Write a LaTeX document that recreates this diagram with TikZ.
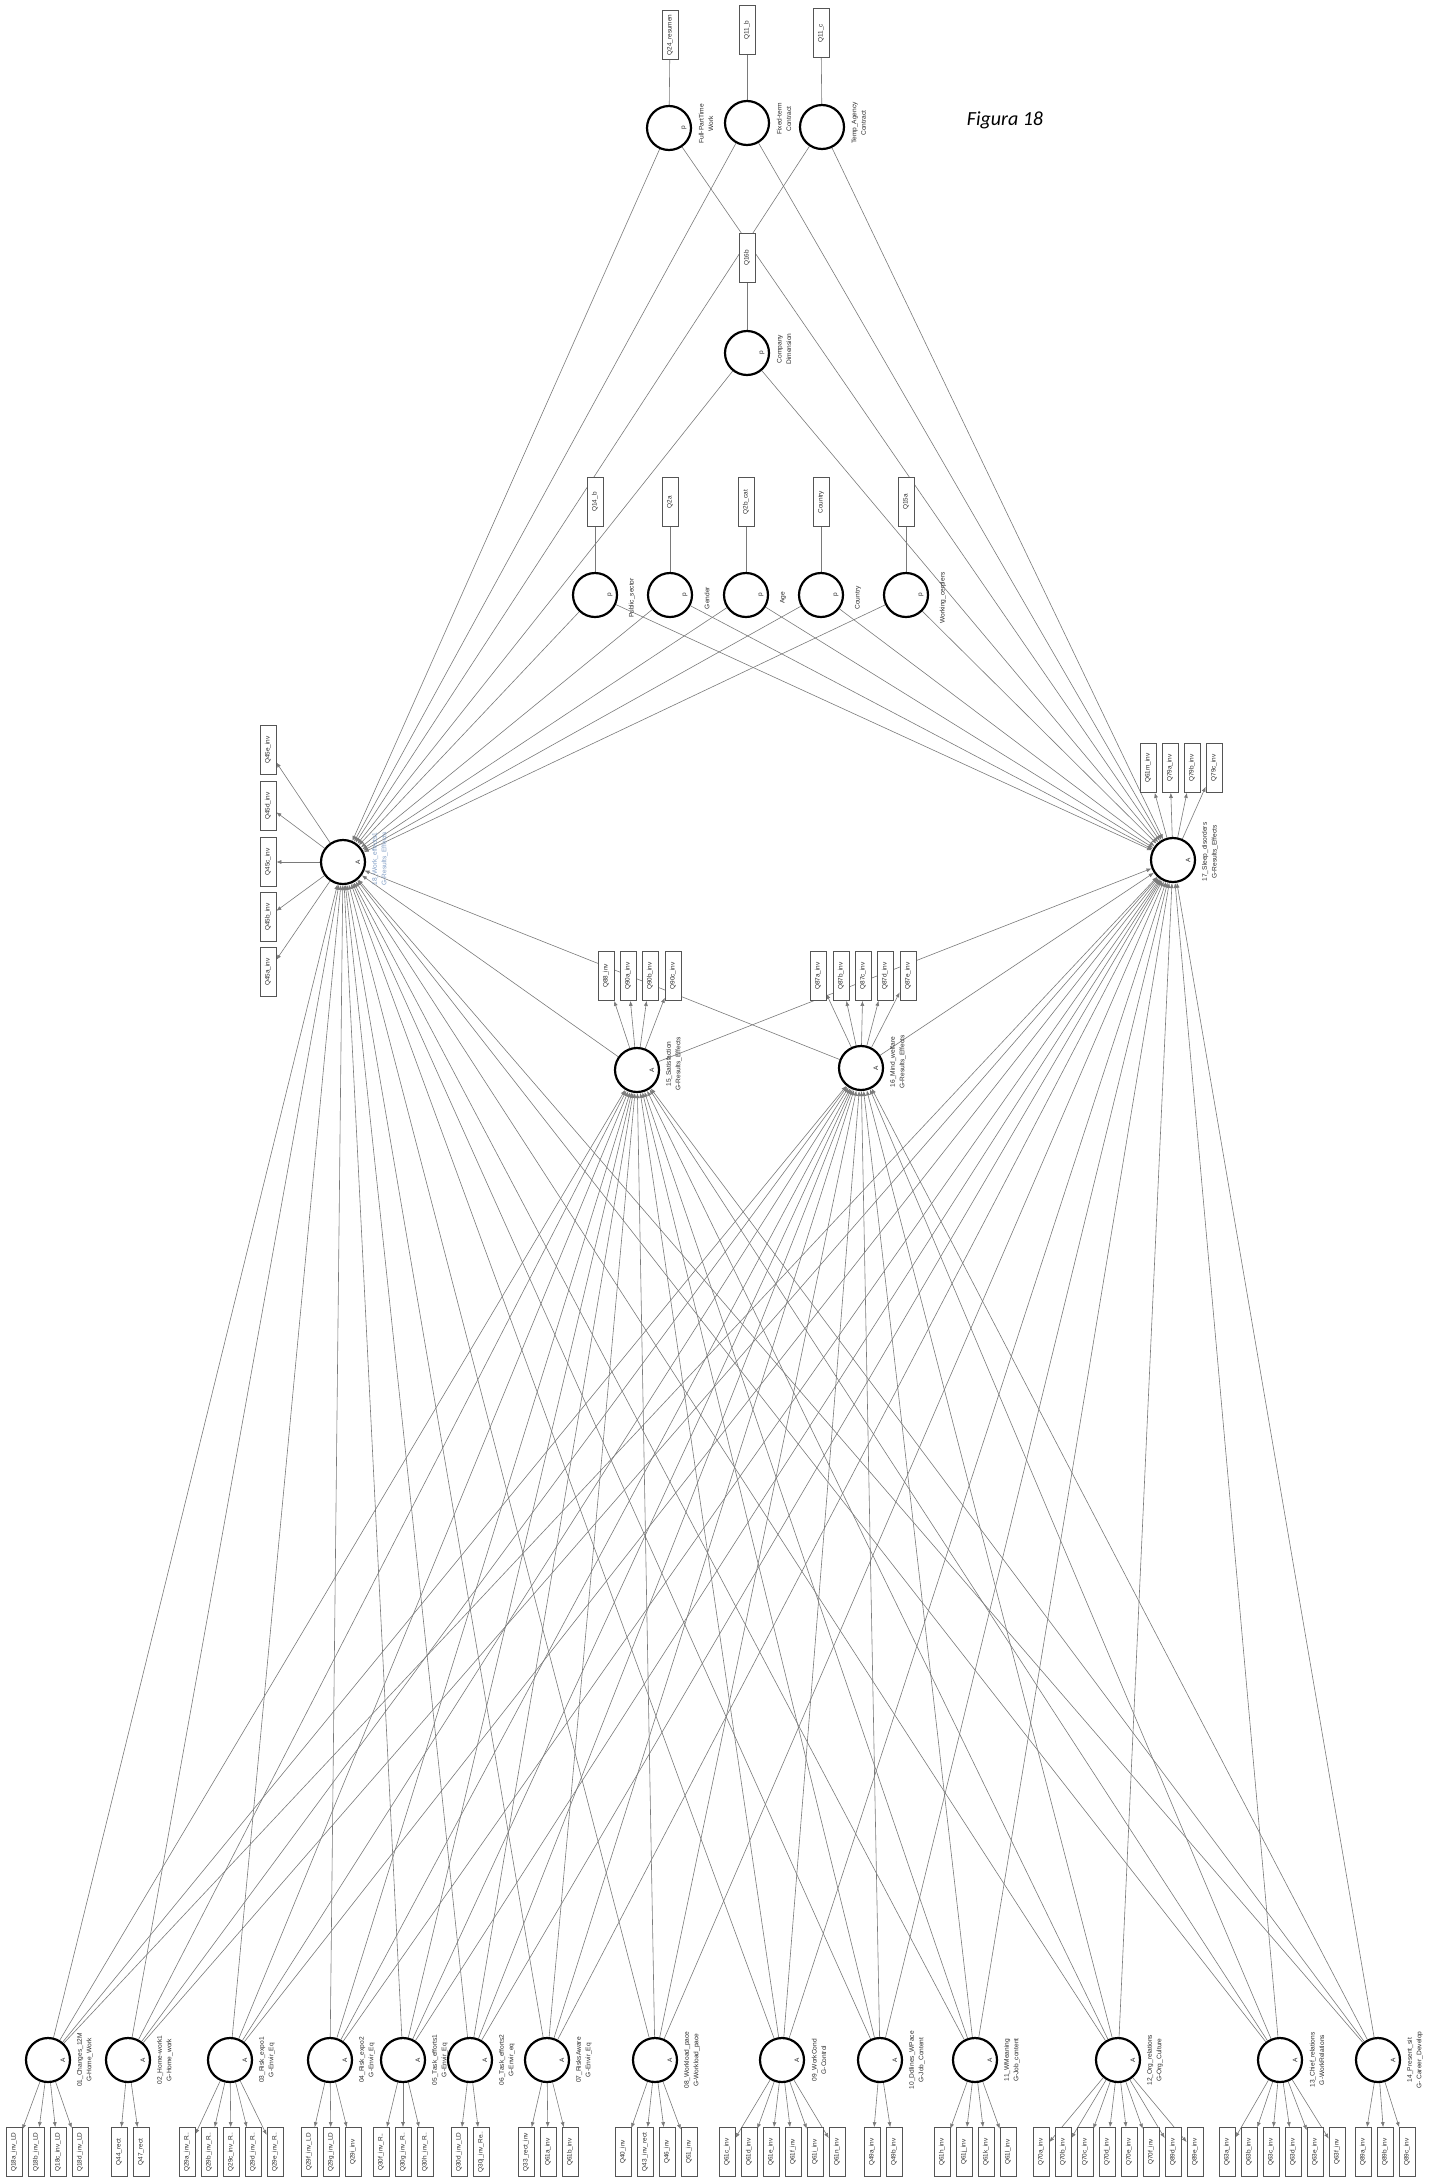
\documentclass[tikz,border=0pt]{standalone}
\usepackage{fontspec}
\setmainfont{Liberation Sans}
\newfontfamily\figfont{Carlito}
\usetikzlibrary{arrows.meta,backgrounds}
\definecolor{ink}{HTML}{2A2A2A}
\definecolor{wire}{HTML}{7A7A7A}
\definecolor{boxline}{HTML}{555555}
\definecolor{paleblue}{HTML}{7E9CC4}

\begin{document}
\begin{tikzpicture}[x=1pt,y=-1pt,
  latent/.style={circle,draw=black,line width=2.2pt,fill=white,minimum size=44pt,inner sep=0pt},
  indbox/.style={draw=boxline,line width=0.7pt,fill=white,rotate=90,minimum width=49pt,minimum height=16pt,inner sep=0pt,font=\fontsize{6.4}{7}\selectfont,text=ink},
  letterA/.style={xshift=15pt,rotate=90,font=\fontsize{6.5}{7}\selectfont,text=ink},
  lbl/.style={xshift=37pt,rotate=90,align=center,font=\fontsize{6.6}{9.5}\selectfont,text=ink},
  arr/.style={-{Latex[length=5pt,width=4pt]},line width=0.6pt,draw=wire},
  link/.style={line width=0.6pt,draw=wire}
]
\useasboundingbox (0,0) rectangle (1429,2179);

\node[font=\figfont\itshape\fontsize{20}{24}\selectfont] (fig) at (1005,120) {Figura 18};

% control variables
\node[latent,label={[letterA]center:p},label={[lbl,xshift=4pt]center:{Full-PartTime\\Work}}] (fpt) at (669,128) {};
\node[latent,label={[lbl,xshift=4pt]center:{Fixed-term\\Contract}}] (fix) at (747,123) {};
\node[latent,label={[lbl,xshift=4pt]center:{Temp\_Agency\\Contract}}] (tmp) at (822,127) {};
\node[latent,label={[letterA]center:p},label={[lbl,xshift=4pt]center:{Company\\Dimension}}] (cmp) at (747,353) {};
\node[latent,label={[letterA]center:p},label={[lbl,xshift=-3pt]center:Public\_sector}] (pub) at (595,595) {};
\node[latent,label={[letterA]center:p},label={[lbl,xshift=-3pt]center:Gender}] (gen) at (670,595) {};
\node[latent,label={[letterA]center:p},label={[lbl,xshift=-3pt]center:Age}] (age) at (746,595) {};
\node[latent,label={[letterA]center:p},label={[lbl,xshift=-3pt]center:Country}] (cty) at (821,595) {};
\node[latent,label={[letterA]center:p},label={[lbl,xshift=-3pt]center:Working\_cerplers}] (wcp) at (906,595) {};

\node[indbox] (b24) at (670,35) {Q24\_resumen};
\node[indbox] (b11b) at (747,30) {Q11\_b};
\node[indbox] (b11c) at (821,33) {Q11\_c};
\node[indbox] (b16) at (747,258) {Q16b};
\node[indbox] (b14) at (595,502) {Q14\_b};
\node[indbox] (b2a) at (670,502) {Q2a};
\node[indbox] (b2b) at (746,502) {Q2b\_cat};
\node[indbox] (bct) at (821,502) {Country};
\node[indbox] (b15) at (906,502) {Q15a};

% results
\node[latent,label={[letterA]center:A},label={[lbl,xshift=3pt,text=paleblue]center:{18\_Work\_effects1\\G-Results\_Effects}}] (w18) at (343,862) {};
\node[latent,label={[letterA]center:A},label={[lbl,xshift=8pt]center:{17\_Sleep\_disorders\\G-Results\_Effects}}] (d17) at (1173,860) {};
\node[latent,label={[letterA]center:A},label={[lbl,xshift=6pt]center:{15\_Satisfaction\\G-Results\_Effects}}] (s15) at (637,1070) {};
\node[latent,label={[letterA]center:A},label={[lbl,xshift=6pt]center:{16\_Mind\_welfare\\G-Results\_Effects}}] (m16) at (861,1068) {};

\node[indbox] (b45e) at (268,750) {Q45e\_inv};
\node[indbox] (b45d) at (268,806) {Q45d\_inv};
\node[indbox] (b45c) at (268,862) {Q45c\_inv};
\node[indbox] (b45b) at (268,917) {Q45b\_inv};
\node[indbox] (b45a) at (268,972) {Q45a\_inv};

\node[indbox] (b61m) at (1148,768) {Q61m\_inv};
\node[indbox] (b79a) at (1170,768) {Q79a\_inv};
\node[indbox] (b79b) at (1192,768) {Q79b\_inv};
\node[indbox] (b79c) at (1214,768) {Q79c\_inv};

\node[indbox] (b88) at (606,976) {Q88\_inv};
\node[indbox] (b90a) at (628,976) {Q90a\_inv};
\node[indbox] (b90b) at (650,976) {Q90b\_inv};
\node[indbox] (b90c) at (673,976) {Q90c\_inv};

\node[indbox] (b87a) at (818,976) {Q87a\_inv};
\node[indbox] (b87b) at (841,976) {Q87b\_inv};
\node[indbox] (b87c) at (863,976) {Q87c\_inv};
\node[indbox] (b87d) at (885,976) {Q87d\_inv};
\node[indbox] (b87e) at (908,976) {Q87e\_inv};

% working conditions
\node[latent,label={[letterA]center:A},label={[lbl]center:{01\_Changes\_12M\\G-Home\_Work}}] (c01) at (48,2060) {};
\node[latent,label={[letterA]center:A},label={[lbl]center:{02\_Home-work1\\G-Home\_work}}] (c02) at (128,2060) {};
\node[latent,label={[letterA]center:A},label={[lbl]center:{03\_Risk\_expo1\\G-Envir\_Eq}}] (c03) at (230,2060) {};
\node[latent,label={[letterA]center:A},label={[lbl]center:{04\_Risk\_expo2\\G-Envir\_Eq}}] (c04) at (330,2060) {};
\node[latent,label={[letterA]center:A},label={[lbl]center:{05\_Task\_efforts1\\G-Envir\_Eq}}] (c05) at (403,2060) {};
\node[latent,label={[letterA]center:A},label={[lbl]center:{06\_Task\_efforts2\\G-Envir\_eq}}] (c06) at (470,2060) {};
\node[latent,label={[letterA]center:A},label={[lbl]center:{07\_RisksAware\\G-Envir\_Eq}}] (c07) at (547,2060) {};
\node[latent,label={[letterA]center:A},label={[lbl]center:{08\_Workload\_pace\\G-Workload\_pace}}] (c08) at (655,2060) {};
\node[latent,label={[letterA]center:A},label={[lbl]center:{09\_WorkCond\\G-Control}}] (c09) at (782,2060) {};
\node[latent,label={[letterA]center:A},label={[lbl]center:{10\_Ddlines\_WPace\\G-Job\_Content}}] (c10) at (880,2060) {};
\node[latent,label={[letterA]center:A},label={[lbl]center:{11\_WMeaning\\G-Job\_content}}] (c11) at (975,2060) {};
\node[latent,label={[letterA]center:A},label={[lbl]center:{12\_Org\_relations\\G-Org\_Culture}}] (c12) at (1118,2060) {};
\node[latent,label={[letterA]center:A},label={[lbl]center:{13\_Chief\_relations\\G-WorkRelations}}] (c13) at (1280,2060) {};
\node[latent,label={[letterA]center:A},label={[lbl]center:{14\_Present\_sit\\G- Career\_Develop}}] (c14) at (1378,2060) {};

\node[indbox] (b18a) at (14,2152) {Q18a\_inv\_LD};
\node[indbox] (b18b) at (36,2152) {Q18b\_inv\_LD};
\node[indbox] (b18c) at (58,2152) {Q18c\_inv\_LD};
\node[indbox] (b18d) at (80,2152) {Q18d\_inv\_LD};
\node[indbox] (b44) at (119,2152) {Q44\_rect};
\node[indbox] (b47) at (141,2152) {Q47\_rect};
\node[indbox] (b29a) at (187,2152) {Q29a\_inv\_R..};
\node[indbox] (b29b) at (209,2152) {Q29b\_inv\_R..};
\node[indbox] (b29c) at (231,2152) {Q29c\_inv\_R..};
\node[indbox] (b29d) at (253,2152) {Q29d\_inv\_R..};
\node[indbox] (b29e) at (275,2152) {Q29e\_inv\_R..};
\node[indbox] (b29f) at (309,2152) {Q29f\_inv\_LD};
\node[indbox] (b29g) at (331,2152) {Q29g\_inv\_LD};
\node[indbox] (b29i) at (353,2152) {Q29i\_inv};
\node[indbox] (b30f) at (381,2152) {Q30f\_inv\_R..};
\node[indbox] (b30g) at (403,2152) {Q30g\_inv\_R..};
\node[indbox] (b30h) at (425,2152) {Q30h\_inv\_R..};
\node[indbox] (b30d) at (459,2152) {Q30d\_inv\_LD};
\node[indbox] (b30j) at (481,2152) {Q30j\_inv\_Re..};
\node[indbox] (b33) at (526,2152) {Q33\_rect\_inv};
\node[indbox] (b61a) at (548,2152) {Q61a\_inv};
\node[indbox] (b61b) at (570,2152) {Q61b\_inv};
\node[indbox] (b40) at (623,2152) {Q40\_inv};
\node[indbox] (b43) at (645,2152) {Q43\_inv\_rect};
\node[indbox] (b46) at (667,2152) {Q46\_inv};
\node[indbox] (b51) at (689,2152) {Q51\_inv};
\node[indbox] (b61c) at (727,2152) {Q61c\_inv};
\node[indbox] (b61d) at (749,2152) {Q61d\_inv};
\node[indbox] (b61e) at (771,2152) {Q61e\_inv};
\node[indbox] (b61f) at (793,2152) {Q61f\_inv};
\node[indbox] (b61i) at (815,2152) {Q61i\_inv};
\node[indbox] (b61n) at (837,2152) {Q61n\_inv};
\node[indbox] (b49a) at (872,2152) {Q49a\_inv};
\node[indbox] (b49b) at (894,2152) {Q49b\_inv};
\node[indbox] (b61h) at (942,2152) {Q61h\_inv};
\node[indbox] (b61j) at (964,2152) {Q61j\_inv};
\node[indbox] (b61k) at (986,2152) {Q61k\_inv};
\node[indbox] (b61l) at (1008,2152) {Q61l\_inv};
\node[indbox] (b70a) at (1041,2152) {Q70a\_inv};
\node[indbox] (b70b) at (1063,2152) {Q70b\_inv};
\node[indbox] (b70c) at (1085,2152) {Q70c\_inv};
\node[indbox] (b70d) at (1107,2152) {Q70d\_inv};
\node[indbox] (b70e) at (1129,2152) {Q70e\_inv};
\node[indbox] (b70f) at (1151,2152) {Q70f\_inv};
\node[indbox] (b89d) at (1173,2152) {Q89d\_inv};
\node[indbox] (b89e) at (1195,2152) {Q89e\_inv};
\node[indbox] (b63a) at (1227,2152) {Q63a\_inv};
\node[indbox] (b63b) at (1249,2152) {Q63b\_inv};
\node[indbox] (b63c) at (1271,2152) {Q63c\_inv};
\node[indbox] (b63d) at (1293,2152) {Q63d\_inv};
\node[indbox] (b63e) at (1315,2152) {Q63e\_inv};
\node[indbox] (b63f) at (1337,2152) {Q63f\_inv};
\node[indbox] (b89a) at (1363,2152) {Q89a\_inv};
\node[indbox] (b89b) at (1385,2152) {Q89b\_inv};
\node[indbox] (b89c) at (1407,2152) {Q89c\_inv};

\begin{pgfonlayer}{background}
% measurement
\draw[link] (b24) -- (fpt); \draw[link] (b11b) -- (fix); \draw[link] (b11c) -- (tmp);
\draw[link] (b16) -- (cmp); \draw[link] (b14) -- (pub); \draw[link] (b2a) -- (gen);
\draw[link] (b2b) -- (age); \draw[link] (bct) -- (cty); \draw[link] (b15) -- (wcp);
\draw[arr] (w18) -- (b45a); \draw[arr] (w18) -- (b45b); \draw[arr] (w18) -- (b45c); \draw[arr] (w18) -- (b45d); \draw[arr] (w18) -- (b45e);
\draw[arr] (d17) -- (b61m); \draw[arr] (d17) -- (b79a); \draw[arr] (d17) -- (b79b); \draw[arr] (d17) -- (b79c);
\draw[arr] (s15) -- (b88); \draw[arr] (s15) -- (b90a); \draw[arr] (s15) -- (b90b); \draw[arr] (s15) -- (b90c);
\draw[arr] (m16) -- (b87a); \draw[arr] (m16) -- (b87b); \draw[arr] (m16) -- (b87c); \draw[arr] (m16) -- (b87d); \draw[arr] (m16) -- (b87e);
\draw[arr] (c01) -- (b18a); \draw[arr] (c01) -- (b18b); \draw[arr] (c01) -- (b18c); \draw[arr] (c01) -- (b18d);
\draw[arr] (c02) -- (b44); \draw[arr] (c02) -- (b47);
\draw[arr] (c03) -- (b29a); \draw[arr] (c03) -- (b29b); \draw[arr] (c03) -- (b29c); \draw[arr] (c03) -- (b29d); \draw[arr] (c03) -- (b29e);
\draw[arr] (c04) -- (b29f); \draw[arr] (c04) -- (b29g); \draw[arr] (c04) -- (b29i);
\draw[arr] (c05) -- (b30f); \draw[arr] (c05) -- (b30g); \draw[arr] (c05) -- (b30h);
\draw[arr] (c06) -- (b30d); \draw[arr] (c06) -- (b30j);
\draw[arr] (c07) -- (b33); \draw[arr] (c07) -- (b61a); \draw[arr] (c07) -- (b61b);
\draw[arr] (c08) -- (b40); \draw[arr] (c08) -- (b43); \draw[arr] (c08) -- (b46); \draw[arr] (c08) -- (b51);
\draw[arr] (c09) -- (b61c); \draw[arr] (c09) -- (b61d); \draw[arr] (c09) -- (b61e); \draw[arr] (c09) -- (b61f); \draw[arr] (c09) -- (b61i); \draw[arr] (c09) -- (b61n);
\draw[arr] (c10) -- (b49a); \draw[arr] (c10) -- (b49b);
\draw[arr] (c11) -- (b61h); \draw[arr] (c11) -- (b61j); \draw[arr] (c11) -- (b61k); \draw[arr] (c11) -- (b61l);
\draw[arr] (c12) -- (b70a); \draw[arr] (c12) -- (b70b); \draw[arr] (c12) -- (b70c); \draw[arr] (c12) -- (b70d);
\draw[arr] (c12) -- (b70e); \draw[arr] (c12) -- (b70f); \draw[arr] (c12) -- (b89d); \draw[arr] (c12) -- (b89e);
\draw[arr] (c13) -- (b63a); \draw[arr] (c13) -- (b63b); \draw[arr] (c13) -- (b63c); \draw[arr] (c13) -- (b63d); \draw[arr] (c13) -- (b63e); \draw[arr] (c13) -- (b63f);
\draw[arr] (c14) -- (b89a); \draw[arr] (c14) -- (b89b); \draw[arr] (c14) -- (b89c);

% structural paths
\draw[arr] (fpt) -- (w18); \draw[arr] (fpt) -- (d17);
\draw[arr] (fix) -- (w18); \draw[arr] (fix) -- (d17);
\draw[arr] (tmp) -- (w18); \draw[arr] (tmp) -- (d17);
\draw[arr] (cmp) -- (w18); \draw[arr] (cmp) -- (d17);
\draw[arr] (pub) -- (w18); \draw[arr] (pub) -- (d17);
\draw[arr] (gen) -- (w18); \draw[arr] (gen) -- (d17);
\draw[arr] (age) -- (w18); \draw[arr] (age) -- (d17);
\draw[arr] (cty) -- (w18); \draw[arr] (cty) -- (d17);
\draw[arr] (wcp) -- (w18); \draw[arr] (wcp) -- (d17);
\draw[arr] (s15) -- (w18); \draw[arr] (s15) -- (d17);
\draw[arr] (m16) -- (w18); \draw[arr] (m16) -- (d17);
\draw[arr] (c01) -- (w18); \draw[arr] (c01) -- (s15); \draw[arr] (c01) -- (m16); \draw[arr] (c01) -- (d17);
\draw[arr] (c02) -- (w18); \draw[arr] (c02) -- (s15); \draw[arr] (c02) -- (m16); \draw[arr] (c02) -- (d17);
\draw[arr] (c03) -- (w18); \draw[arr] (c03) -- (s15); \draw[arr] (c03) -- (m16); \draw[arr] (c03) -- (d17);
\draw[arr] (c04) -- (w18); \draw[arr] (c04) -- (s15); \draw[arr] (c04) -- (m16); \draw[arr] (c04) -- (d17);
\draw[arr] (c05) -- (w18); \draw[arr] (c05) -- (s15); \draw[arr] (c05) -- (m16); \draw[arr] (c05) -- (d17);
\draw[arr] (c06) -- (w18); \draw[arr] (c06) -- (s15); \draw[arr] (c06) -- (m16); \draw[arr] (c06) -- (d17);
\draw[arr] (c07) -- (w18); \draw[arr] (c07) -- (s15); \draw[arr] (c07) -- (m16); \draw[arr] (c07) -- (d17);
\draw[arr] (c08) -- (w18); \draw[arr] (c08) -- (s15); \draw[arr] (c08) -- (m16); \draw[arr] (c08) -- (d17);
\draw[arr] (c09) -- (w18); \draw[arr] (c09) -- (s15); \draw[arr] (c09) -- (m16); \draw[arr] (c09) -- (d17);
\draw[arr] (c10) -- (w18); \draw[arr] (c10) -- (s15); \draw[arr] (c10) -- (m16); \draw[arr] (c10) -- (d17);
\draw[arr] (c11) -- (w18); \draw[arr] (c11) -- (s15); \draw[arr] (c11) -- (m16); \draw[arr] (c11) -- (d17);
\draw[arr] (c12) -- (w18); \draw[arr] (c12) -- (s15); \draw[arr] (c12) -- (m16); \draw[arr] (c12) -- (d17);
\draw[arr] (c13) -- (w18); \draw[arr] (c13) -- (s15); \draw[arr] (c13) -- (m16); \draw[arr] (c13) -- (d17);
\draw[arr] (c14) -- (w18); \draw[arr] (c14) -- (s15); \draw[arr] (c14) -- (m16); \draw[arr] (c14) -- (d17);
\end{pgfonlayer}
\end{tikzpicture}
\end{document}
